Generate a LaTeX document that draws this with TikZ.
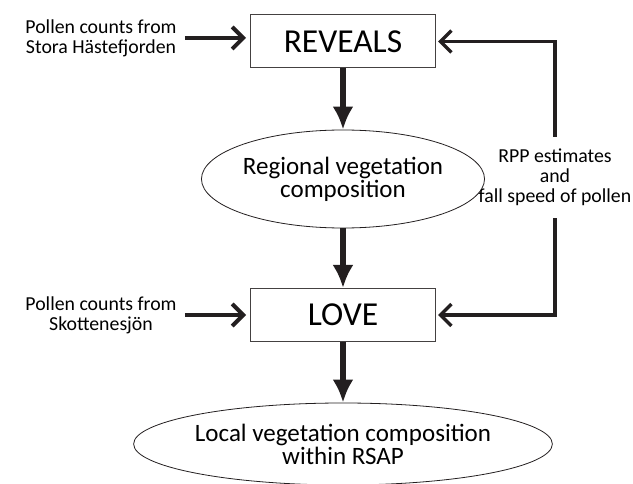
\documentclass[tikz,border=0pt]{standalone}
\usepackage{fontspec}
\setmainfont{Carlito}
\usetikzlibrary{arrows.meta,shapes.geometric}
\definecolor{ink}{HTML}{231F20}

\begin{document}
\begin{tikzpicture}[x=1pt, y=-1pt,
    box/.style={draw=ink!85, line width=1pt, minimum width=185pt, minimum height=53pt, inner sep=0pt, font=\fontsize{33.5}{40}\selectfont},
    blob/.style={ellipse, draw=ink, line width=0.8pt, inner sep=0pt, align=center, font=\fontsize{25}{23}\selectfont},
    note/.style={align=center, inner sep=0pt, font=\fontsize{19.8}{20}\selectfont},
    down/.style={draw=ink, line width=6pt, -{Latex[length=23pt,width=21pt]}},
    feed/.style={draw=ink, line width=4pt, -{Straight Barb[length=11pt,width=22pt]}}
  ]
    \useasboundingbox (0,0) rectangle (633,484);

    % Models
    \node[box] (reveals) at (343,41.5) {REVEALS};
    \node[box] (love) at (343,315) {LOVE};

    % Vegetation results
    \node[blob, minimum width=247pt, minimum height=98pt] (regional) at (343,179) {Regional vegetation\\composition};
    \node[blob, minimum width=330pt, minimum height=82pt] (local) at (343,444) {Local vegetation composition\\within RSAP};

    % Inputs
    \node[note] (stora) at (101,38) {Pollen counts from\\Stora Hästefjorden};
    \node[note] (skott) at (101,315) {Pollen counts from\\Skottenesjön};
    \node[note, inner ysep=12pt] (rpp) at (555,177.5) {RPP estimates\\and\\fall speed of pollen};

    % Main flow
    \draw[down] (reveals) -- (regional);
    \draw[down] (regional) -- (love);
    \draw[down] (love) -- (local);

    % Input arrows
    \draw[feed, shorten <=8pt, shorten >=4pt] (stora.east) -- (stora.east -| reveals.west);
    \draw[feed, shorten <=8pt, shorten >=4pt] (skott.east) -- (skott.east -| love.west);
    \draw[feed, line width=3.5pt, shorten >=2pt] (rpp.north) |- (reveals.east);
    \draw[feed, line width=3.5pt, shorten >=2pt] (rpp.south) |- (love.east);
\end{tikzpicture}
\end{document}
